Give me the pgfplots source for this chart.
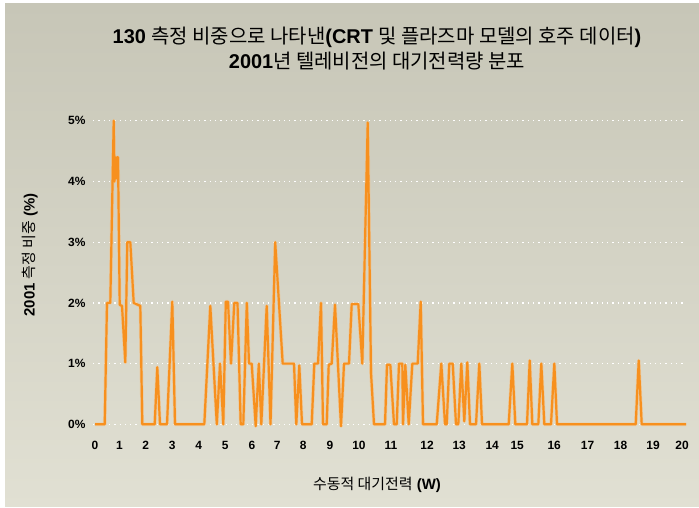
\documentclass[border=0pt]{standalone}
\usepackage{pgfplots}
\pgfplotsset{compat=1.18}
\usepackage{fontspec}
\setmainfont{Liberation Sans}
\newfontfamily\kr{Noto Sans CJK KR}
\definecolor{bgtop}{HTML}{C7C6B7}
\definecolor{bgbot}{HTML}{E1E0D3}
\definecolor{lineor}{HTML}{F7901E}
\pgfplotstableread{
x y
0 0
9.7 0
12 2
15.3 2
18.7 5
19.5 4.0
20.3 4.4
21.2 4.05
22 4.4
23 4.4
24.7 1.97
27 1.95
30.3 1.02
32.3 3.0
35.3 3.0
38.7 2.0
45.3 1.95
47.3 0
59.7 0
62.3 0.94
65 0
72 0
77.3 2.02
80 0
109.3 0
115.3 1.95
121.8 0
125 1.0
128.3 0
130.8 2.02
133 2.02
136 1.0
139.3 2.0
142.5 2.0
145.7 0
148.3 0
151.8 2.0
154 1.0
156.7 1.0
160.7 -0.03
163.8 1.0
166.3 0
171.7 1.95
175.5 0
180.2 3.0
187.7 1.0
199 1.0
201.3 0
204.3 0.97
207 0
216.7 0
219.3 1.0
223 1.0
226 2.0
228 0
231.7 0
233.7 0.98
236.7 1.0
240 1.97
246 -0.03
249 1.0
254 1.0
256.7 1.98
263.3 1.98
267.3 1.0
272.7 4.97
276 0.85
279 0
290 0
292 0.98
295.3 0.98
299 0
301.7 0
304 1.0
307.3 1.0
308 0
310.3 0.98
313.7 0
317.3 1.0
322.7 1.0
325.7 2.02
328 0
341.7 0
346.3 1.0
350 0
351.7 0
354.3 1.0
357.7 1.0
361 0
363.3 0
366.3 1.0
369.3 0.05
372.3 1.02
375 0
381 0
384.3 1.0
387 0
413.7 0
417.3 1.0
420.3 0
432 0
434.7 1.05
437.3 0
443.3 0
446.3 1.0
449.3 0
456 0
459.3 1.0
462 0
540.7 0
543.7 1.05
546.7 0
591 0
}\datatable
\begin{document}
\begin{tikzpicture}[x=1bp,y=1bp]
\fill[white] (0,0) rectangle (699,508);
\shade[top color=bgtop, bottom color=bgbot] (5,1) rectangle (699,504);
\node[font=\fontsize{20}{23}\selectfont\bfseries] at (377,471) {130 {\kr\mdseries 측정 비중으로 나타낸}(CRT {\kr\mdseries 및 플라즈마 모델의 호주 데이터})};
\node[font=\fontsize{20}{23}\selectfont\bfseries] at (377,447) {2001{\kr\mdseries 년 텔레비전의 대기전력량 분포}};
\node[font=\fontsize{15}{18}\selectfont\bfseries] at (377,23) {{\kr\mdseries 수동적 대기전력} (W)};
\node[font=\fontsize{15}{18}\selectfont\bfseries, rotate=90] at (30,253) {2001 {\kr\mdseries 측정 비중} (\%)};
\begin{axis}[
  at={(93bp,77.6bp)}, anchor=south west, scale only axis,
  width=593bp, height=315.7bp,
  xmin=-2, xmax=591, ymin=-0.1, ymax=5.1,
  axis line style={draw=none},
  major tick length=0pt,
  xtick={0,24.5,50.8,77.1,103.8,130.1,156.9,182.3,208.2,234.9,263.9,296,332.1,364.2,397.2,422.2,459.2,492.6,525.6,558.1,587.1},
  xticklabels={0,1,2,3,4,5,6,7,8,9,10,11,12,13,14,15,16,17,18,19,20},
  ytick={0,1,2,3,4,5},
  yticklabels={0\%,1\%,2\%,3\%,4\%,5\%},
  ymajorgrids,
  grid style={white, line width=1.3bp, dash pattern=on 1.3bp off 4bp},
  tick label style={font=\fontsize{12}{14}\selectfont\bfseries},
  /pgf/number format/assume math mode=true,
  xticklabel style={yshift=-7bp},
  yticklabel style={xshift=-4bp},
  clip=false,
]
\addplot[lineor!60, opacity=0.5, line width=3.6bp, line join=round] table[x=x,y=y] {\datatable};
\addplot[lineor, line width=2.2bp, line join=round] table[x=x,y=y] {\datatable};
\end{axis}
\end{tikzpicture}
\end{document}
